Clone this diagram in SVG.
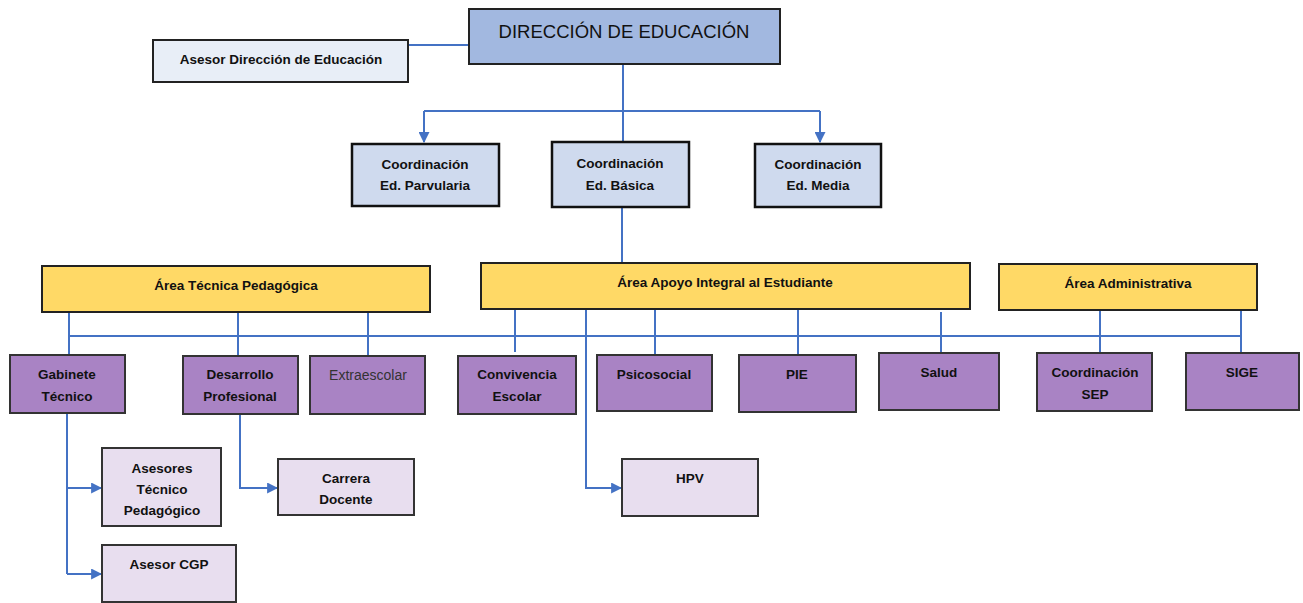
<svg xmlns="http://www.w3.org/2000/svg" width="1303" height="603" viewBox="0 0 1303 603">
<defs>
<marker id="arr" viewBox="0 0 10 10" refX="9" refY="5" markerWidth="11" markerHeight="11" orient="auto" markerUnits="userSpaceOnUse">
<path d="M0,0 L10,5 L0,10 z" fill="#4472C4"/>
</marker>
<style>
rect{stroke:#222;stroke-width:2}
.dir{fill:#A2B8E0}
.ase{fill:#E8EEF7}
.coo{fill:#CFDAEE;stroke:#111;stroke-width:2.5}
.area{fill:#FFD966}
.pur{fill:#A983C4;stroke:#333}
.sub{fill:#E8DEEF;stroke:#333}
text{font-family:"Liberation Sans",Arial,sans-serif;font-size:13.5px;font-weight:bold;fill:#111;text-anchor:middle}
.big{font-size:18.5px;font-weight:normal}
.lt{font-weight:normal;fill:#333;font-size:14px}
#connectors path,#connectors line{stroke:#4472C4;stroke-width:2;fill:none}
</style>
</defs>
<g id="connectors">
<line x1="408" y1="45" x2="469" y2="45"/>
<line x1="623" y1="64" x2="623" y2="143"/>
<path d="M424,111 H820" />
<path d="M424,111 V142" marker-end="url(#arr)"/>
<path d="M820,111 V142" marker-end="url(#arr)"/>
<line x1="622" y1="207" x2="622" y2="263"/>
<line x1="69" y1="336" x2="1241" y2="336"/>
<line x1="69" y1="312" x2="69" y2="355"/>
<line x1="238" y1="312" x2="238" y2="356"/>
<line x1="368" y1="312" x2="368" y2="356"/>
<line x1="515" y1="309" x2="515" y2="352"/>
<line x1="655" y1="309" x2="655" y2="355"/>
<line x1="798" y1="309" x2="798" y2="355"/>
<line x1="941" y1="312" x2="941" y2="353"/>
<line x1="1100" y1="309" x2="1100" y2="353"/>
<line x1="1241" y1="309" x2="1241" y2="353"/>
<path d="M67,413 V574"/>
<path d="M67,488 H101" marker-end="url(#arr)"/>
<path d="M67,574 H101" marker-end="url(#arr)"/>
<path d="M240,414 V488 H277" marker-end="url(#arr)"/>
<path d="M586,309 V488 H621" marker-end="url(#arr)"/>
</g>
<g id="direccion"><rect class="dir" x="469" y="9" width="311" height="55"/><text class="big" x="624" y="38">DIRECCIÓN DE EDUCACIÓN</text></g>
<g id="asesor-direccion"><rect class="ase" x="153" y="40" width="255" height="42"/><text x="281" y="64">Asesor Dirección de Educación</text></g>
<g id="coord-parvularia"><rect class="coo" x="352" y="144" width="147" height="62"/><text x="425" y="169">Coordinación</text><text x="425" y="190">Ed. Parvularia</text></g>
<g id="coord-basica"><rect class="coo" x="552" y="142" width="137" height="65"/><text x="620" y="168">Coordinación</text><text x="620" y="190">Ed. Básica</text></g>
<g id="coord-media"><rect class="coo" x="755" y="144" width="126" height="63"/><text x="818" y="169">Coordinación</text><text x="818" y="190">Ed. Media</text></g>
<g id="area-tecnica"><rect class="area" x="42" y="266" width="388" height="46"/><text x="236" y="290">Área Técnica Pedagógica</text></g>
<g id="area-apoyo"><rect class="area" x="481" y="263" width="489" height="46"/><text x="725" y="287">Área Apoyo Integral al Estudiante</text></g>
<g id="area-admin"><rect class="area" x="999" y="264" width="258" height="46"/><text x="1128" y="288">Área Administrativa</text></g>
<g id="gabinete"><rect class="pur" x="10" y="355" width="115" height="58"/><text x="67" y="379">Gabinete</text><text x="67" y="401">Técnico</text></g>
<g id="desarrollo"><rect class="pur" x="183" y="356" width="115" height="58"/><text x="240" y="379">Desarrollo</text><text x="240" y="401">Profesional</text></g>
<g id="extraescolar"><rect class="pur" x="310" y="356" width="115" height="58"/><text class="lt" x="368" y="380">Extraescolar</text></g>
<g id="convivencia"><rect class="pur" x="458" y="356" width="118" height="58"/><text x="517" y="379">Convivencia</text><text x="517" y="401">Escolar</text></g>
<g id="psicosocial"><rect class="pur" x="597" y="355" width="115" height="56"/><text x="654" y="379">Psicosocial</text></g>
<g id="pie"><rect class="pur" x="739" y="355" width="117" height="57"/><text x="797" y="379">PIE</text></g>
<g id="salud"><rect class="pur" x="879" y="353" width="120" height="57"/><text x="939" y="377">Salud</text></g>
<g id="coord-sep"><rect class="pur" x="1037" y="353" width="115" height="58"/><text x="1095" y="377">Coordinación</text><text x="1095" y="399">SEP</text></g>
<g id="sige"><rect class="pur" x="1186" y="353" width="113" height="57"/><text x="1242" y="377">SIGE</text></g>
<g id="asesores-tp"><rect class="sub" x="102" y="448" width="119" height="78"/><text x="162" y="473">Asesores</text><text x="162" y="494">Técnico</text><text x="162" y="515">Pedagógico</text></g>
<g id="asesor-cgp"><rect class="sub" x="102" y="545" width="134" height="57"/><text x="169" y="569">Asesor CGP</text></g>
<g id="carrera-docente"><rect class="sub" x="278" y="459" width="136" height="56"/><text x="346" y="483">Carrera</text><text x="346" y="504">Docente</text></g>
<g id="hpv"><rect class="sub" x="622" y="459" width="136" height="57"/><text x="690" y="483">HPV</text></g>
</svg>
